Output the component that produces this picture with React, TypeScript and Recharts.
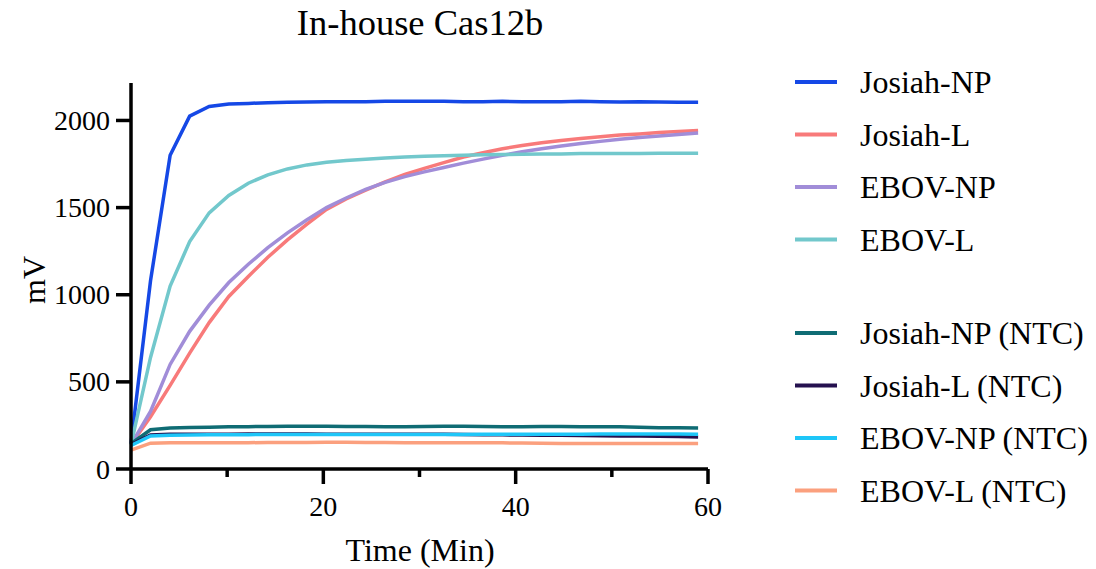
import React from "react";
import { LineChart, Line, XAxis, YAxis, Legend } from "recharts";

// sampling times (min)
const times = [
  0, 2.03, 4.07, 6.1, 8.13, 10.17, 12.2, 14.23, 16.27, 18.3, 20.33, 22.37,
  24.4, 26.43, 28.47, 30.5, 32.53, 34.57, 36.6, 38.63, 40.67, 42.7, 44.73,
  46.77, 48.8, 50.83, 52.87, 54.9, 56.93, 58.97,
];

const josiahNP = [
  145, 1080, 1800, 2025, 2080, 2095, 2098, 2102, 2105, 2106, 2108, 2108, 2108,
  2110, 2110, 2110, 2110, 2108, 2108, 2110, 2108, 2108, 2108, 2110, 2108, 2106,
  2108, 2106, 2105, 2105,
];
const josiahL = [
  140, 300, 480, 665, 840, 990, 1105, 1215, 1315, 1405, 1490, 1550, 1600, 1648,
  1690, 1725, 1758, 1790, 1815, 1838, 1856, 1872, 1885, 1897, 1907, 1916, 1923,
  1931, 1937, 1942,
];
const ebovNP = [
  140, 330, 600, 790, 940, 1070, 1175, 1270, 1355, 1430, 1500, 1555, 1605, 1645,
  1678, 1705, 1730, 1755, 1778, 1800, 1820, 1838, 1854, 1868, 1880, 1892, 1902,
  1911, 1920, 1928,
];
const ebovL = [
  140, 640, 1050, 1305, 1470, 1570, 1640, 1688, 1722, 1745, 1760, 1770, 1778,
  1785, 1790, 1795, 1798, 1800, 1803, 1805, 1806, 1808, 1808, 1810, 1810, 1810,
  1810, 1812, 1812, 1812,
];
const josiahNPNtc = [
  145, 225, 235, 238, 240, 242, 243, 244, 245, 245, 245, 244, 244, 243, 243,
  244, 245, 245, 244, 243, 243, 244, 244, 243, 242, 242, 240, 237, 236, 235,
];
const josiahLNtc = [
  140, 195, 200, 200, 200, 200, 201, 201, 201, 201, 200, 200, 200, 200, 199,
  199, 199, 198, 197, 196, 195, 194, 193, 192, 191, 190, 189, 188, 186, 184,
];
const ebovNPNtc = [
  135, 190, 193, 195, 196, 197, 197, 198, 198, 198, 198, 198, 198, 198, 198,
  198, 198, 198, 199, 199, 200, 200, 200, 200, 201, 201, 201, 201, 201, 200,
];
const ebovLNtc = [
  108, 148, 150, 150, 150, 151, 151, 152, 152, 152, 153, 153, 152, 152, 151,
  151, 151, 150, 150, 150, 149, 148, 147, 146, 146, 146, 146, 146, 146, 146,
];

const xTicks = [0, 10, 20, 30, 40, 50, 60];
const yTicks = [0, 500, 1000, 1500, 2000];

const series = [
  { key: "jnp", name: "Josiah-NP", color: "#1548E6", values: josiahNP },
  { key: "jl", name: "Josiah-L", color: "#F87A7A", values: josiahL },
  { key: "enp", name: "EBOV-NP", color: "#A18DD8", values: ebovNP },
  { key: "el", name: "EBOV-L", color: "#72C8CC", values: ebovL },
  { key: "jnpn", name: "Josiah-NP (NTC)", color: "#0F6C74", values: josiahNPNtc },
  { key: "jln", name: "Josiah-L (NTC)", color: "#25114F", values: josiahLNtc },
  { key: "enpn", name: "EBOV-NP (NTC)", color: "#1EC6F8", values: ebovNPNtc },
  { key: "eln", name: "EBOV-L (NTC)", color: "#FBA07E", values: ebovLNtc },
];

const data = times.map((t, i) => {
  const row: Record<string, number> = { t };
  series.forEach((s) => (row[s.key] = s.values[i]));
  return row;
});

const FONT = "'Liberation Serif', 'Times New Roman', serif";
const AXIS_W = 3.5;
const textStyle = { fontFamily: FONT };

const XTick = (props: any) => {
  const { x, y, payload } = props;
  const major = payload.value % 20 === 0;
  return (
    <g>
      <line x1={x} x2={x} y1={y} y2={y + (major ? 15 : 8)} stroke="#000" strokeWidth={AXIS_W} />
      {major && (
        <text x={x} y={y + 47} textAnchor="middle" fontSize={28} style={textStyle} fill="#000">
          {payload.value}
        </text>
      )}
    </g>
  );
};

const YTick = (props: any) => {
  const { x, y, payload } = props;
  return (
    <g>
      <line x1={x - 15} x2={x} y1={y} y2={y} stroke="#000" strokeWidth={AXIS_W} />
      <text x={x - 21} y={y + 9.5} textAnchor="end" fontSize={28} style={textStyle} fill="#000">
        {payload.value}
      </text>
    </g>
  );
};

// legend keeps the series order, with a gap before the NTC group
const LegendBox = () => (
  <svg width={316} height={480} style={{ display: "block" }}>
    {series.map((s, i) => {
      const cy = 24 + i * 52.5 + (i >= 4 ? 41 : 0);
      return (
        <g key={s.key}>
          <line x1={15} x2={57} y1={cy} y2={cy} stroke={s.color} strokeWidth={4} />
          <text x={80} y={cy + 11} fontSize={32} style={textStyle} fill="#000">
            {s.name}
          </text>
        </g>
      );
    })}
  </svg>
);

export default function App() {
  return (
    <div style={{ position: "absolute", left: 0, top: 0, background: "#fff" }}>
      <LineChart
        width={1096}
        height={569}
        data={data}
        margin={{ top: 83, right: 388, left: 31, bottom: 20 }}
      >
        <XAxis
          dataKey="t"
          type="number"
          domain={[0, 60]}
          ticks={xTicks}
          interval={0}
          height={80}
          tickSize={0}
          tickMargin={0}
          tickLine={false}
          tick={<XTick />}
          axisLine={{ stroke: "#000", strokeWidth: AXIS_W }}
        />
        <YAxis
          type="number"
          domain={[0, 2215]}
          ticks={yTicks}
          interval={0}
          width={100}
          tickSize={0}
          tickMargin={0}
          tickLine={false}
          tick={<YTick />}
          axisLine={{ stroke: "#000", strokeWidth: AXIS_W }}
        />
        {series.map((s) => (
          <Line
            key={s.key}
            type="linear"
            dataKey={s.key}
            name={s.name}
            stroke={s.color}
            strokeWidth={3.5}
            dot={false}
            activeDot={false}
            isAnimationActive={false}
          />
        ))}
        <Legend
          layout="vertical"
          align="center"
          verticalAlign="middle"
          content={<LegendBox />}
          wrapperStyle={{ left: 780, top: 58, width: 316 }}
        />
        <text x={420} y={35} textAnchor="middle" fontSize={36.5} style={textStyle} fill="#000">
          In-house Cas12b
        </text>
        <text x={420} y={561} textAnchor="middle" fontSize={32} style={textStyle} fill="#000">
          Time (Min)
        </text>
        <text
          x={45}
          y={280}
          textAnchor="middle"
          fontSize={32}
          style={textStyle}
          fill="#000"
          transform="rotate(-90 45 280)"
        >
          mV
        </text>
      </LineChart>
    </div>
  );
}
